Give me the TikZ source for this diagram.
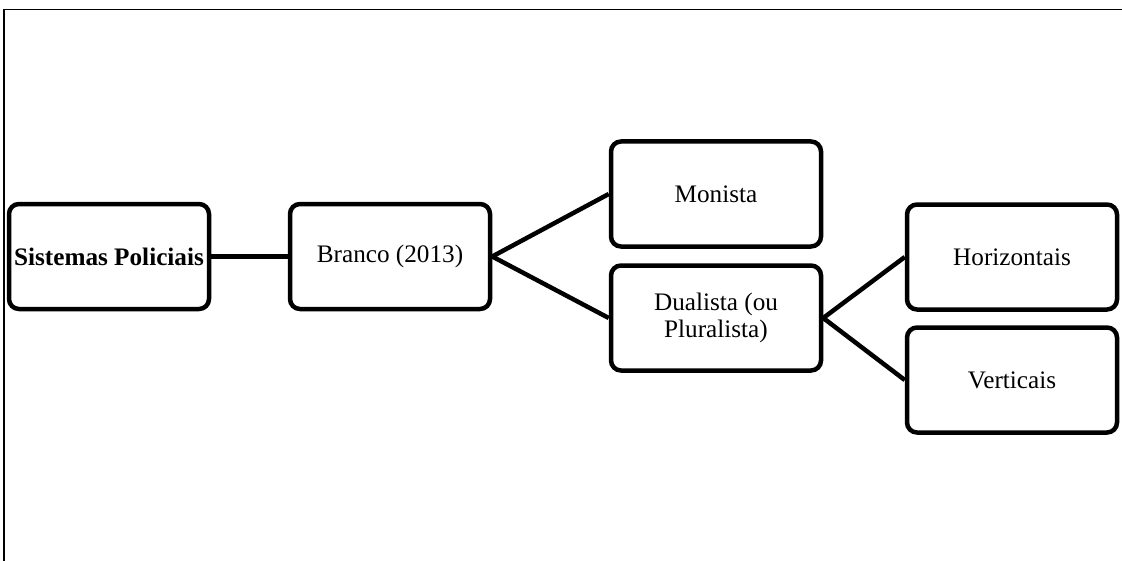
\documentclass[tikz,border=0pt]{standalone}
\usepackage{fontspec}
\setmainfont{Liberation Serif}

\begin{document}
\begin{tikzpicture}[x=0.5pt,y=-0.5pt,
  caixa/.style={draw,line width=2.25pt,rounded corners=5pt,minimum width=100pt,
    minimum height=52.5pt,inner sep=1pt,align=center,
    font=\fontsize{12.6}{13.5}\selectfont},
  caixalarga/.style={caixa,minimum width=105pt},
  liga/.style={line width=2.25pt}]
  \useasboundingbox (0,0) rectangle (1122,561);
  \draw[line width=0.6pt] (1122,9.5) -- (4,9.5) -- (4,561);

  \node[caixa] (sistemas) at (109,256.5) {\textbf{Sistemas Policiais}};
  \node[caixa] (branco) at (390,256.5) {Branco (2013)};
  \node[caixalarga] (monista) at (716,194) {Monista};
  \node[caixalarga] (dualista) at (716,318) {Dualista (ou\\Pluralista)};
  \node[caixalarga] (horizontais) at (1012,257) {Horizontais};
  \node[caixalarga] (verticais) at (1012,380) {Verticais};

  \draw[liga] (sistemas) -- (branco);
  \draw[liga] (branco.east) -- (monista.west);
  \draw[liga] (branco.east) -- (dualista.west);
  \draw[liga] (dualista.east) -- (horizontais.west);
  \draw[liga] (dualista.east) -- (verticais.west);
\end{tikzpicture}
\end{document}
